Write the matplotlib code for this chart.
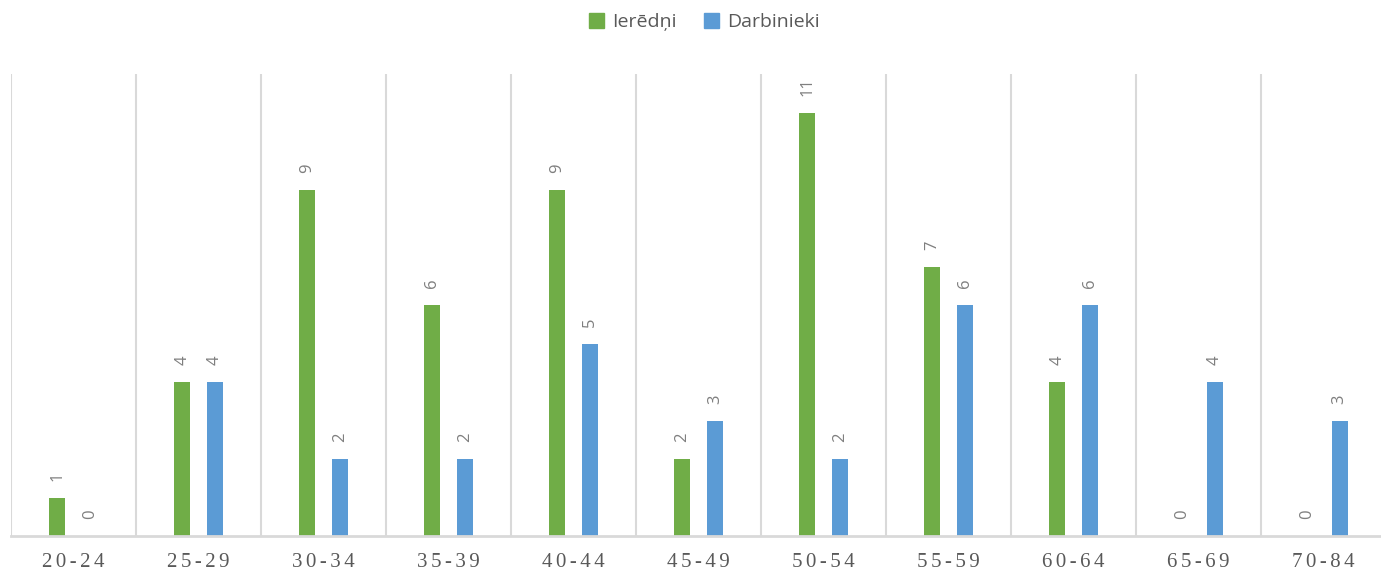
import numpy as np
import matplotlib.pyplot as plt
from matplotlib.patches import Patch

groups = ['20-24', '25-29', '30-34', '35-39', '40-44', '45-49',
          '50-54', '55-59', '60-64', '65-69', '70-84']
ieredni = [1, 4, 9, 6, 9, 2, 11, 7, 4, 0, 0]
darbinieki = [0, 4, 2, 2, 5, 3, 2, 6, 6, 4, 3]

green = '#70AD47'
blue = '#5B9BD5'
grey = '#595959'
line_c = '#D9D9D9'

fig = plt.figure(figsize=(13.81, 5.74), dpi=100)
# axes runs a bit past the right edge, like the original
ax = fig.add_axes([11 / 1381, (574 - 536) / 574, 1375 / 1381, (536 - 74) / 574])

x = np.arange(len(groups))
w = 0.13
off = 0.13
b1 = ax.bar(x - off, ieredni, w, color=green)
b2 = ax.bar(x + off, darbinieki, w, color=blue)

for bars, vals in [(b1, ieredni), (b2, darbinieki)]:
    for b, v in zip(bars, vals):
        ax.annotate(str(v), (b.get_x() + b.get_width() / 2, v),
                    xytext=(0, 12), textcoords='offset points',
                    rotation=90, ha='center', va='bottom',
                    fontsize=12, color='#7F7F7F', family='Open Sans')

ax.set_xlim(-0.5, len(groups) - 0.5)
ax.set_ylim(0, 12)

for b in np.arange(-0.5, len(groups), 1.0):
    ax.axvline(b, color=line_c, lw=1.5, zorder=0)

for s in ['top', 'right', 'left']:
    ax.spines[s].set_visible(False)
ax.spines['bottom'].set_color(line_c)
ax.spines['bottom'].set_linewidth(2)
ax.set_yticks([])
ax.set_xticks(x)
ax.set_xticklabels(['\u2006'.join(g) for g in groups], family='Liberation Serif',
                   fontsize=15, color=grey)
ax.tick_params(axis='x', length=0, pad=12)

handles = [Patch(color=green, label='Ierēdņi'), Patch(color=blue, label='Darbinieki')]
fig.legend(handles=handles, loc='center', bbox_to_anchor=(0.51, 0.962), ncol=2,
           frameon=False, prop={'family': 'Open Sans', 'size': 14},
           labelcolor=grey, handlelength=0.8, handleheight=0.8,
           handletextpad=0.4, columnspacing=1.4)

fig.savefig('out.png', dpi=100)
